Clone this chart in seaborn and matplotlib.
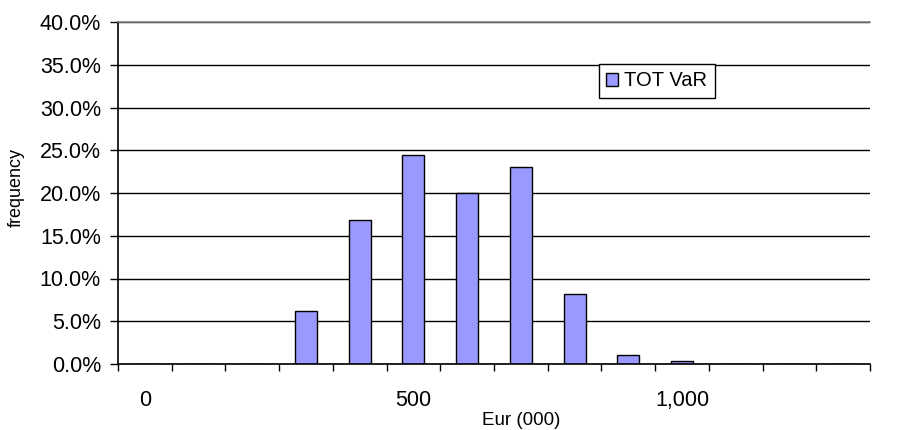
import pandas as pd
import matplotlib
matplotlib.use("Agg")
import matplotlib.pyplot as plt
from matplotlib.ticker import PercentFormatter, FixedLocator
import seaborn as sns

# bins of the VaR distribution, Eur (000)
bins = [0, 100, 200, 300, 400, 500, 600, 700, 800, 900, 1000, 1100, 1200, 1300]
freq = [0.0, 0.0, 0.0, 0.062, 0.168, 0.244, 0.200, 0.230, 0.082, 0.011, 0.004, 0.0, 0.0, 0.0]
series = "TOT VaR"
tick_labels = {0: "0", 500: "500", 1000: "1,000"}

def main():
    sns.set_style("white", {"text.color": "black", "axes.labelcolor": "black",
                            "xtick.color": "black", "ytick.color": "black"})
    plt.rcParams["font.family"] = ["Liberation Sans", "DejaVu Sans"]

    data = pd.DataFrame({"bin": bins, "freq": freq, "series": series})

    fig = plt.figure(figsize=(9.14, 4.30), dpi=100)
    ax = fig.add_axes([118 / 914, 1 - 364 / 430, 752 / 914, 342 / 430])

    sns.barplot(data=data, x="bin", y="freq", hue="series", order=bins,
                palette={series: "#9999FF"}, width=0.41,
                edgecolor="black", linewidth=1.0, saturation=1, ax=ax)

    ax.set_xlim(-0.5, len(bins) - 0.5)
    ax.set_ylim(0, 0.40)
    ax.yaxis.set_major_locator(FixedLocator([i * 0.05 for i in range(9)]))
    ax.yaxis.set_major_formatter(PercentFormatter(1.0, decimals=1))

    # labels only at 0, 500, 1000; tick marks at bin boundaries
    pos = [bins.index(b) for b in tick_labels]
    ax.set_xticks(pos)
    ax.set_xticklabels(list(tick_labels.values()))
    ax.set_xticks([i - 0.5 for i in range(len(bins) + 1)], minor=True)
    ax.tick_params(axis="x", which="major", length=0, pad=19, labelsize=15.5,
                   labelcolor="black")
    ax.tick_params(axis="x", which="minor", length=5, width=1, color="black", direction="out")
    ax.tick_params(axis="y", which="major", length=5.8, width=1, color="black",
                   direction="out", pad=6.5, labelsize=15.5, labelcolor="black")
    ax.tick_params(bottom=True, left=True, which="both")

    ax.yaxis.grid(True, color="black", linewidth=1.0)
    ax.set_axisbelow(True)

    for side in ["left", "bottom"]:
        ax.spines[side].set_color("black")
        ax.spines[side].set_linewidth(1.2)
    ax.spines["right"].set_visible(False)
    ax.spines["top"].set_color("#808080")
    ax.spines["top"].set_linewidth(1.2)

    ax.set_xlabel("Eur (000)", fontsize=13.5, color="black")
    ax.xaxis.set_label_coords(403 / 752, -0.14)
    ax.set_ylabel("frequency", fontsize=13, color="black")
    ax.yaxis.set_label_coords(-0.124, 0.5175)

    handles, labels = ax.get_legend_handles_labels()
    leg = ax.legend(handles, labels, loc="upper left", bbox_to_anchor=(0.64, 0.876),
                    fontsize=14.5, frameon=True, fancybox=False, framealpha=1,
                    edgecolor="black", handlelength=0.6, handleheight=0.6,
                    handletextpad=0.3, borderpad=0.35, borderaxespad=0)
    leg.get_frame().set_linewidth(1.0)
    for t in leg.get_texts():
        t.set_color("black")

    fig.savefig("out.png", dpi=100)

if __name__ == "__main__":
    main()
